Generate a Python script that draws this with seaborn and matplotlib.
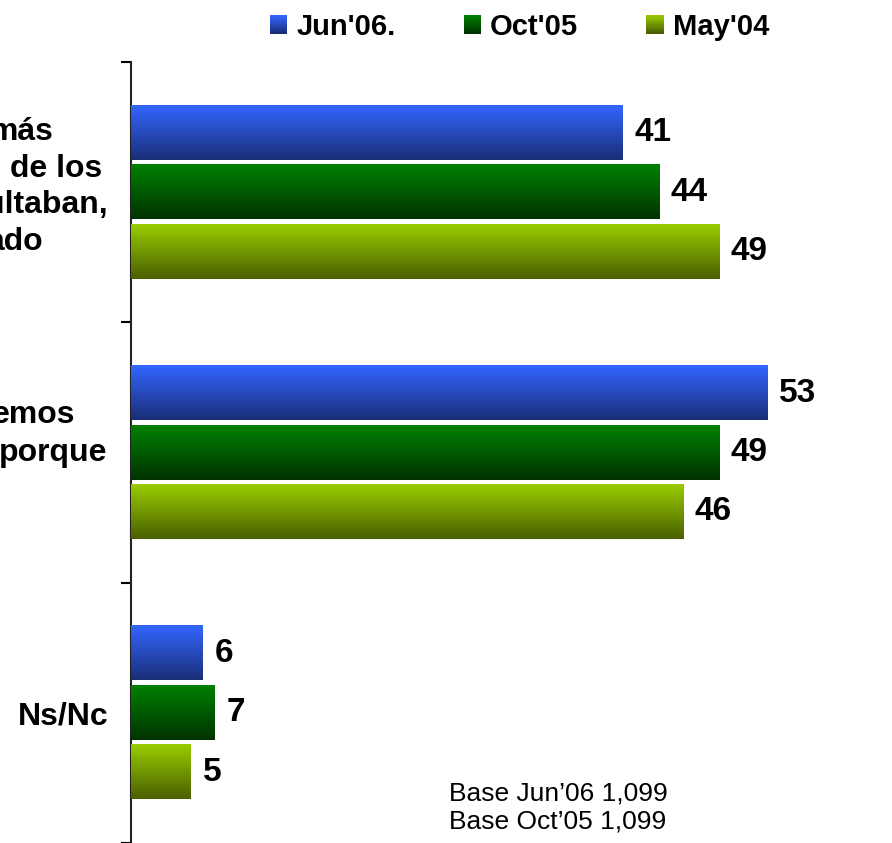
import numpy as np
import pandas as pd
import seaborn as sns
import matplotlib.pyplot as plt
from matplotlib.colors import LinearSegmentedColormap
from matplotlib.patches import Rectangle
from matplotlib.legend_handler import HandlerBase

# data
series = ["Jun'06.", "Oct'05", "May'04"]
label_lines = [["más", "de los", "ultaban,", "ado"], ["emos", "porque"], ["Ns/Nc"]]
categories = [" ".join(lines) for lines in label_lines]
jun06 = [41, 53, 6]
oct05 = [44, 49, 7]
may04 = [49, 46, 5]
footnote = ["Base Jun\u201906 1,099", "Base Oct\u201905 1,099"]

# gradient colours (top -> bottom of each bar)
tops = ["#3366ff", "#008000", "#99cc00"]
bottoms = ["#1a2e78", "#003300", "#4a6000"]

# label placement: (right end px, baseline offset px from band centre)
label_pos = [[(54, -52), (102, -15.5), (108, 21), (43, 58)],
             [(75, -29.5), (107, 8.5)],
             [(108, 12)]]

df = pd.DataFrame({
    "cat": categories * 3,
    "series": np.repeat(series, 3),
    "val": jun06 + oct05 + may04,
})

sns.set_theme(style="white")
plt.rcParams["font.family"] = ["Liberation Sans", "DejaVu Sans"]
plt.rcParams["text.color"] = "black"

W, H = 892, 843
fig = plt.figure(figsize=(W / 100, H / 100), dpi=100)
ax = fig.add_axes([131 / W, 0, 761 / W, 781 / H])

sns.barplot(data=df, x="val", y="cat", hue="series", orient="h",
            palette=tops, width=0.684, gap=0.09, linewidth=0,
            saturation=1, legend=False, ax=ax)

# 1. paint each bar with a vertical gradient
grad = np.linspace(0, 1, 64).reshape(-1, 1)
for k, cont in enumerate(ax.containers):
    cmap = LinearSegmentedColormap.from_list(f"g{k}", [tops[k], bottoms[k]])
    for bar in cont:
        x0, y0 = bar.get_x(), bar.get_y()
        w, h = bar.get_width(), bar.get_height()
        ax.imshow(grad, cmap=cmap, aspect="auto", interpolation="bilinear",
                  extent=[x0, x0 + w, y0 + h, y0], zorder=3)
    ax.bar_label(cont, padding=8.6, fontsize=24, fontweight="bold",
                 color="black", zorder=4)

ax.set_xlim(0, 761 / 12)
ax.set_ylim(2.5, -0.5)
ax.set_xticks([])
ax.set_yticks([-0.5, 0.5, 1.5, 2.5])
ax.set_yticklabels([])
ax.set_xlabel("")
ax.set_ylabel("")
ax.tick_params(axis="y", left=True, length=7.2, width=1.5, direction="out", color="black")
for side in ["top", "right", "bottom"]:
    ax.spines[side].set_visible(False)
ax.spines["left"].set_color("#222222")
ax.spines["left"].set_linewidth(1.5)

# 2. category labels (clipped at the left edge in the original)
for i, lines in enumerate(label_lines):
    for text, (xend, dy) in zip(lines, label_pos[i]):
        ax.annotate(text, xy=(0, i), xycoords=("axes fraction", "data"),
                    xytext=(xend - 131, -dy), textcoords="offset pixels",
                    ha="right", va="baseline", fontsize=23, fontweight="bold",
                    color="black", annotation_clip=False)


# 3. legend with gradient squares
class GradHandler(HandlerBase):
    def __init__(self, top, bottom):
        super().__init__()
        self.cmap = LinearSegmentedColormap.from_list("h", [top, bottom])

    def create_artists(self, legend, orig_handle, xdescent, ydescent,
                       width, height, fontsize, trans):
        n = 16
        out = []
        for j in range(n):
            r = Rectangle((-xdescent, -ydescent + height * (1 - (j + 1) / n)),
                          width, height / n + 0.3, facecolor=self.cmap(j / (n - 1)),
                          linewidth=0, transform=trans)
            out.append(r)
        return out


handles = [Rectangle((0, 0), 1, 1) for _ in series]
hmap = {h: GradHandler(tops[k], bottoms[k]) for k, h in enumerate(handles)}
leg = fig.legend(handles, series, handler_map=hmap, loc="center",
                 bbox_to_anchor=(519.5 / W, 1 - 27 / H), ncol=3, frameon=False,
                 prop=dict(weight="bold", size=21), handlelength=0.59,
                 handleheight=0.59, handletextpad=0.31, columnspacing=2.34,
                 borderaxespad=0, borderpad=0)
for t in leg.get_texts():
    t.set_color("black")

# 4. footnote
fig.text(449 / W, 1 - 801 / H, footnote[0], fontsize=19, va="baseline", color="black")
fig.text(449 / W, 1 - 828 / H, footnote[1], fontsize=19, va="baseline", color="black")

fig.savefig("out.png", dpi=100)
